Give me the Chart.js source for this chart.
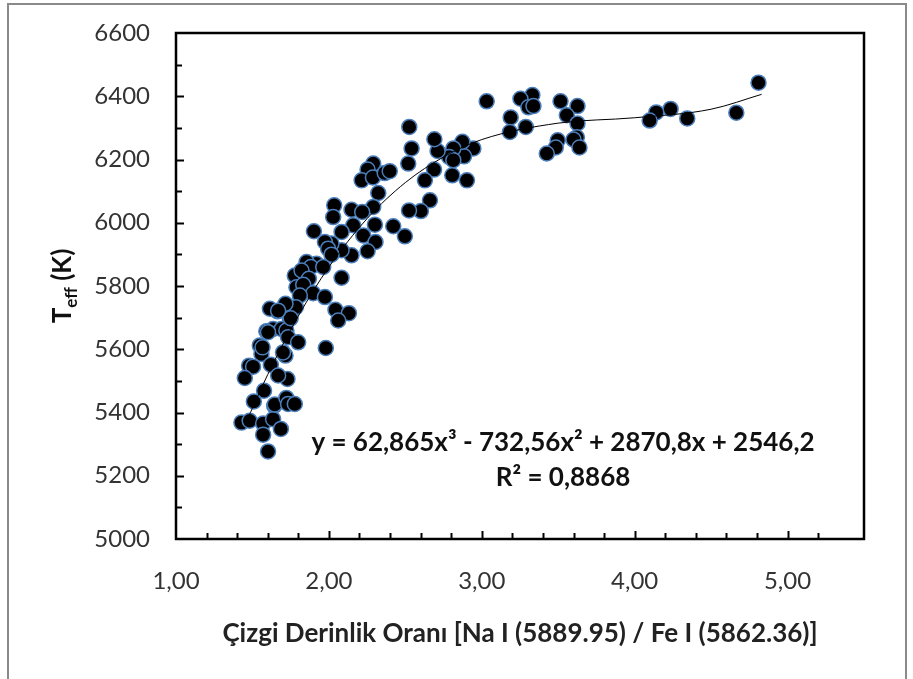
<!DOCTYPE html>
<html>
<head>
<meta charset="utf-8">
<script src="https://cdn.jsdelivr.net/npm/chart.js@4.4.1/dist/chart.umd.min.js"></script>
<style>
    body { margin: 0; background: #fff; }
    #wrap { width: 913px; height: 679px; }
</style>
</head>
<body>
<div id="wrap"><canvas id="grafik" width="913" height="679"></canvas></div>
<script>
// Çizgi derinlik oranı (x) ve sıcaklık (y) değerleri
const oranX = [
    4.81, 4.665, 4.344, 4.235, 4.141, 4.098, 3.626, 3.556, 3.626, 3.622,
    3.600, 3.639, 3.515, 3.497, 3.484, 3.425, 3.331, 3.253, 3.305, 3.338,
    3.189, 3.288, 3.184, 3.032, 2.945, 2.884, 2.873, 2.814, 2.786, 2.711,
    2.690, 2.814, 2.807, 2.903, 2.688, 2.628, 2.661, 2.602, 2.524, 2.497,
    2.526, 2.541, 2.519, 2.421, 2.290, 2.253, 2.214, 2.288, 2.365, 2.398,
    2.323, 2.290, 2.148, 2.218, 2.301, 2.159, 2.083, 2.225, 2.305, 2.253,
    2.148, 2.083, 2.035, 2.028, 1.902, 2.017, 1.974, 1.995, 2.017, 2.083,
    1.919, 1.854, 1.882, 1.963, 1.777, 1.821, 1.869, 1.788, 1.832, 1.897,
    1.974, 1.810, 1.784, 2.043, 2.131, 2.061, 1.745, 1.664, 1.614, 1.716,
    1.635, 1.690, 1.722, 1.591, 1.602, 1.733, 1.799, 1.980, 1.548, 1.559,
    1.566, 1.716, 1.700, 1.478, 1.504, 1.450, 1.620, 1.576, 1.509, 1.428,
    1.482, 1.570, 1.570, 1.602, 1.642, 1.635, 1.686, 1.646, 1.722, 1.733,
    1.777, 1.729, 1.668, 1.750, 1.668
];
const sicaklikY = [
    6443, 6348, 6330, 6360, 6349, 6323, 6369, 6340, 6314, 6270,
    6263, 6238, 6384, 6261, 6238, 6219, 6404, 6392, 6365, 6369,
    6333, 6303, 6287, 6384, 6235, 6210, 6256, 6235, 6208, 6227,
    6264, 6198, 6150, 6134, 6168, 6134, 6071, 6037, 6039, 5957,
    6303, 6235, 6187, 5989, 6187, 6168, 6134, 6143, 6157, 6163,
    6094, 6050, 6041, 6034, 5994, 5992, 5971, 5960, 5939, 5910,
    5897, 5913, 6055, 6018, 5973, 5934, 5939, 5918, 5899, 5826,
    5870, 5876, 5860, 5860, 5833, 5849, 5823, 5796, 5804, 5777,
    5765, 5770, 5733, 5725, 5714, 5691, 5696, 5720, 5728, 5744,
    5664, 5664, 5659, 5657, 5654, 5638, 5622, 5604, 5612, 5585,
    5606, 5580, 5590, 5548, 5545, 5509, 5551, 5469, 5435, 5368,
    5374, 5365, 5330, 5277, 5421, 5379, 5348, 5425, 5446, 5427,
    5427, 5506, 5517, 5698, 5722
];

// Eğilim çizgisi (resimden okunan noktalar)
const egilimX = [1.45, 1.6, 1.8, 2.0, 2.25, 2.5, 2.75, 3.0, 3.5, 4.0, 4.5, 4.83];
const egilimY = [5360, 5520, 5705, 5860, 6013, 6127, 6208, 6263, 6315, 6332, 6359, 6406];

// Eksen etiketleri
const xEtiketDegerleri = [1, 2, 3, 4, 5];
const xEtiketleri = ["1,00", "2,00", "3,00", "4,00", "5,00"];
const yEtiketDegerleri = [5000, 5200, 5400, 5600, 5800, 6000, 6200, 6400, 6600];

const denklemMetni = "y = 62,865x³ - 732,56x² + 2870,8x + 2546,2";
const r2Metni = "R² = 0,8868";
const xBaslik = "Çizgi Derinlik Oranı [Na I (5889.95) / Fe I (5862.36)]";

const yaziTipi = "Lato, 'Open Sans', sans-serif";

function tamSayiMi(v) {
    return Math.abs(v - Math.round(v)) < 1e-6;
}

// Çerçeve, içe bakan çentikler, denklem ve y başlığı
const ekCizimler = {
    id: "ekCizimler",
    afterDraw(chart) {
        const { ctx, chartArea: a, scales } = chart;
        ctx.save();
        // dış gri çerçeve
        ctx.strokeStyle = "#8a8a8a";
        ctx.lineWidth = 2;
        ctx.strokeRect(8, 4, 898, 680);

        // çentikler
        ctx.strokeStyle = "#000";
        ctx.lineWidth = 2;
        scales.x.ticks.forEach(t => {
            if (t.value <= 1.0001 || t.value >= 5.4999) return;
            const px = Math.round(scales.x.getPixelForValue(t.value)) + 0.5;
            const len = tamSayiMi(t.value) ? 8 : 6;
            ctx.beginPath();
            ctx.moveTo(px, a.bottom);
            ctx.lineTo(px, a.bottom - len);
            ctx.stroke();
        });
        scales.y.ticks.forEach(t => {
            if (t.value <= 5000 || t.value >= 6600) return;
            const py = Math.round(scales.y.getPixelForValue(t.value)) + 0.5;
            const len = t.value % 200 === 0 ? 8 : 6;
            ctx.beginPath();
            ctx.moveTo(a.left, py);
            ctx.lineTo(a.left + len, py);
            ctx.stroke();
        });

        // çizim alanı çerçevesi
        ctx.lineWidth = 2.5;
        ctx.strokeRect(a.left, a.top, a.right - a.left, a.bottom - a.top);

        // denklem ve R²
        ctx.fillStyle = "#111";
        ctx.textAlign = "center";
        ctx.textBaseline = "middle";
        ctx.font = "bold 26px " + yaziTipi;
        ctx.fillText(denklemMetni, 563, 443);
        ctx.fillText(r2Metni, 563, 478);

        // y ekseni başlığı: T_eff (K)
        ctx.translate(62, 286);
        ctx.rotate(-Math.PI / 2);
        ctx.textAlign = "left";
        ctx.textBaseline = "alphabetic";
        const buyuk = "bold 26px " + yaziTipi;
        const kucuk = "bold 17px " + yaziTipi;
        ctx.font = buyuk;
        const wT = ctx.measureText("T").width;
        const wK = ctx.measureText(" (K)").width;
        ctx.font = kucuk;
        const wE = ctx.measureText("eff").width;
        let x0 = -(wT + wE + wK) / 2;
        const taban = 9;
        ctx.font = buyuk;
        ctx.fillText("T", x0, taban);
        ctx.font = kucuk;
        ctx.fillText("eff", x0 + wT, taban + 6);
        ctx.font = buyuk;
        ctx.fillText(" (K)", x0 + wT + wE, taban);
        ctx.restore();
    }
};

document.addEventListener("DOMContentLoaded", () => {
    const ctx = document.getElementById("grafik").getContext("2d");

    const noktalar = oranX.map((x, i) => ({ x: x, y: sicaklikY[i] }));
    const egilim = egilimX.map((x, i) => ({ x: x, y: egilimY[i] }));

    new Chart(ctx, {
        type: "scatter",
        data: {
            datasets: [
                {
                    label: "Eğilim",
                    data: egilim,
                    showLine: true,
                    borderColor: "#000",
                    borderWidth: 1,
                    pointRadius: 0,
                    cubicInterpolationMode: "monotone",
                    order: 0,
                },
                {
                    label: "Yıldızlar",
                    data: noktalar,
                    backgroundColor: "#000",
                    borderColor: "#4a7ebb",
                    borderWidth: 1.5,
                    pointRadius: 7.5,
                    order: 1,
                },
            ],
        },
        options: {
            responsive: false,
            animation: false,
            layout: { padding: { top: 33, right: 49, left: 0, bottom: 0 } },
            plugins: {
                legend: { display: false },
                tooltip: { enabled: false },
            },
            scales: {
                x: {
                    type: "linear",
                    min: 1,
                    max: 5.5,
                    afterFit: s => {
                        s.height = 140;
                        s.paddingLeft = 0;
                        s.paddingRight = 0;
                    },
                    grid: { display: false, drawTicks: false },
                    border: { display: false },
                    ticks: {
                        stepSize: 0.2,
                        autoSkip: false,
                        maxRotation: 0,
                        padding: 28,
                        color: "#333",
                        font: { family: yaziTipi, size: 24 },
                        callback: v => {
                            const i = xEtiketDegerleri.findIndex(d => Math.abs(d - v) < 1e-6);
                            return i >= 0 ? xEtiketleri[i] : "";
                        },
                    },
                    title: {
                        display: true,
                        text: xBaslik,
                        color: "#222",
                        font: { family: yaziTipi, size: 26, weight: "bold" },
                        padding: { top: 0, bottom: 30 },
                    },
                },
                y: {
                    min: 5000,
                    max: 6600,
                    afterFit: s => {
                        s.width = 176;
                        s.paddingTop = 0;
                        s.paddingBottom = 0;
                    },
                    grid: { display: false, drawTicks: false },
                    border: { display: false },
                    ticks: {
                        stepSize: 100,
                        autoSkip: false,
                        padding: 26,
                        color: "#333",
                        font: { family: yaziTipi, size: 24 },
                        callback: v => (yEtiketDegerleri.includes(v) ? String(v) : ""),
                    },
                },
            },
        },
        plugins: [ekCizimler],
    });
});
</script>
</body>
</html>
